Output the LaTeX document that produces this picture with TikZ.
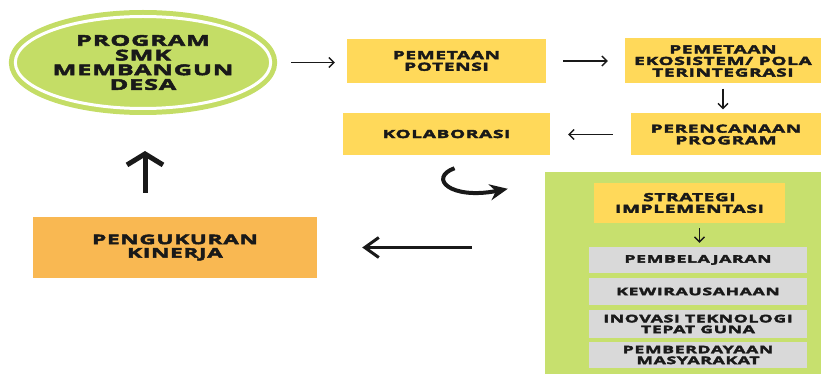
\documentclass[tikz,border=0pt]{standalone}
\usepackage{fontspec}
\usepackage{xcolor}
\usepackage{tikz}
\usetikzlibrary{arrows.meta,shapes.geometric,calc}
\newfontfamily\diagfont{Open Sans}[FakeStretch=1.7, LetterSpace=6,
  BoldFeatures={FakeStretch=1.7, LetterSpace=6, FakeBold=3.5}]
\definecolor{ringgreen}{RGB}{196,221,102}
\definecolor{panelgreen}{RGB}{199,224,110}
\definecolor{boxyellow}{RGB}{255,217,90}
\definecolor{boxorange}{RGB}{249,184,82}
\definecolor{boxgray}{RGB}{217,217,217}
\definecolor{inkblack}{RGB}{25,25,25}
\tikzset{
  goal-node/.style={ellipse, fill=ringgreen, draw=ringgreen, line width=5pt,
    double=white, double distance=3pt, minimum width=249pt, minimum height=92pt,
    inner sep=0pt, align=center, text=inkblack,
    font=\diagfont\bfseries\fontsize{14.8}{14.7}\selectfont},
  yellow-box/.style={fill=boxyellow, inner sep=0pt, align=center, text=inkblack,
    font=\diagfont\bfseries\fontsize{11.2}{11.6}\selectfont},
  gray-box/.style={fill=boxgray, inner sep=0pt, align=center, text=inkblack,
    minimum width=218pt, font=\diagfont\bfseries\fontsize{10.4}{10.8}\selectfont},
  measure-box/.style={fill=boxorange, inner sep=0pt, align=center, text=inkblack,
    font=\diagfont\bfseries\fontsize{13.2}{13.5}\selectfont},
  panel-box/.style={fill=panelgreen, inner sep=0pt},
  flow-arrow/.style={-{Straight Barb[length=5pt,width=10pt]}, line width=1.3pt, draw=inkblack},
  long-arrow/.style={-{Straight Barb[length=14pt,width=20pt]}, line width=3pt, draw=inkblack},
  up-arrow/.style={-{Straight Barb[length=11pt,width=36pt]}, line width=5pt, draw=inkblack},
  swoosh-arrow/.style={-{Stealth[length=18pt,width=16pt]}, line width=4pt, draw=inkblack}
}
\begin{document}
\begin{tikzpicture}[x=1pt, y=-1pt]
\useasboundingbox (0,0) rectangle (821,374);

% Starting point
\node[goal-node] (prog) at (143,62.5) {PROGRAM\\SMK\\MEMBANGUN\\DESA};

% Mapping, planning and collaboration
\node[yellow-box, minimum width=199pt, minimum height=44pt] (potensi) at (446.5,61) {PEMETAAN\\POTENSI};
\node[yellow-box, minimum width=196pt, minimum height=45pt] (ekosistem) at (723,61) {PEMETAAN\\EKOSISTEM/ POLA\\TERINTEGRASI};
\node[yellow-box, minimum width=190pt, minimum height=42pt] (rencana) at (726,134.5) {PERENCANAAN\\PROGRAM};
\node[yellow-box, minimum width=207pt, minimum height=42pt] (kolaborasi) at (446.5,134) {KOLABORASI};

% Implementation panel
\node[panel-box, minimum width=276pt, minimum height=202pt] (panel) at (683,273) {};
\node[yellow-box, minimum width=191pt, minimum height=40pt] (strategi) at (689.5,203) {STRATEGI\\IMPLEMENTASI};
\node[gray-box, minimum height=26pt] (belajar) at (698,260) {PEMBELAJARAN};
\node[gray-box, minimum height=27pt] (usaha) at (698,291.5) {KEWIRAUSAHAAN};
\node[gray-box, minimum height=28pt] (inovasi) at (698,324) {INOVASI TEKNOLOGI\\TEPAT GUNA};
\node[gray-box, minimum height=26pt] (daya) at (698,355) {PEMBERDAYAAN\\MASYARAKAT};

% Measurement
\node[measure-box, minimum width=284pt, minimum height=61pt] (kinerja) at (175,247.5) {PENGUKURAN\\KINERJA};

% Arrows
\draw[flow-arrow, shorten <=18pt, shorten >=12pt] (prog.east) -- (prog.east -| potensi.west);
\draw[flow-arrow, shorten <=17pt, shorten >=17pt] (potensi.east) -- (ekosistem.west);
\draw[flow-arrow, shorten <=5pt, shorten >=4pt] (ekosistem.south) -- (ekosistem.south |- rencana.north);
\draw[flow-arrow, shorten <=18pt, shorten >=18pt] (rencana.west) -- (rencana.west -| kolaborasi.east);
\draw[swoosh-arrow] ($(kolaborasi.south)+(8,13)$) .. controls (428,178) and (450,200) .. ($(panel.north west)+(-37,17)$);
\draw[flow-arrow, shorten <=5pt, shorten >=4pt] ([xshift=10pt]strategi.south) -- ([xshift=10pt]strategi.south |- belajar.north);
\draw[long-arrow, shorten <=73pt, shorten >=45pt] (kinerja.east -| panel.west) -- (kinerja.east);
\draw[up-arrow, shorten <=24pt, shorten >=40pt] ([xshift=-30pt]kinerja.north) -- ([xshift=-30pt]kinerja.north |- prog.south);
\end{tikzpicture}
\end{document}
